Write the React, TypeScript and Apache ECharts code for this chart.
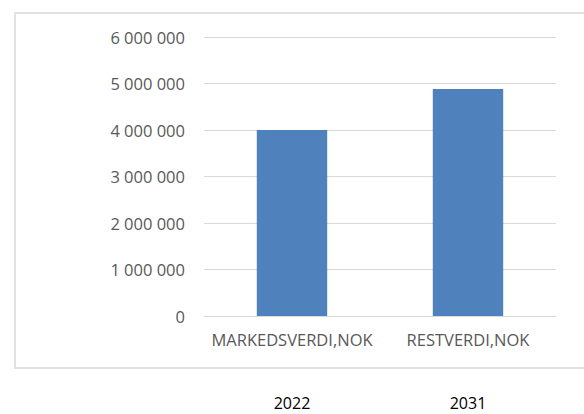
import React, { useEffect, useRef } from "react";
import * as echarts from "echarts";

const categories = ["MARKEDSVERDI,NOK", "RESTVERDI,NOK"];
const values = [4000000, 4880000];
const years = ["2022", "2031"];

function fmt(v: number): string {
  return String(Math.round(v)).replace(/\B(?=(\d{3})+(?!\d))/g, " ");
}

export default function App() {
  const ref = useRef<HTMLDivElement>(null);
  useEffect(() => {
    document.body.style.margin = "0";
    const chart = echarts.init(ref.current!, null, { renderer: "svg" });
    const font = "'Open Sans', 'Noto Sans', sans-serif";
    chart.setOption({
      animation: false,
      backgroundColor: "#ffffff",
      grid: { left: 204, right: 28, top: 37, bottom: 98, containLabel: false },
      graphic: [
        {
          type: "rect",
          shape: { x: 15, y: 13, width: 600, height: 355 },
          style: { fill: "none", stroke: "#d9d9d9", lineWidth: 1.5 },
          silent: true,
        },
      ],
      xAxis: [
        {
          type: "category",
          data: categories,
          position: "bottom",
          axisLine: { show: true, lineStyle: { color: "#d9d9d9", width: 1 } },
          axisTick: { show: false },
          axisLabel: {
            color: "#595959",
            fontSize: 16.5,
            fontFamily: font,
            margin: 15,
            interval: 0,
            hideOverlap: false,
          },
        },
        {
          type: "category",
          data: years,
          position: "bottom",
          offset: 71,
          axisLine: { show: false },
          axisTick: { show: false },
          axisLabel: { color: "#000000", fontSize: 16, fontFamily: font, margin: 8, interval: 0 },
        },
      ],
      yAxis: {
        type: "value",
        min: 0,
        max: 6000000,
        interval: 1000000,
        axisLine: { show: false },
        axisTick: { show: false },
        splitLine: { lineStyle: { color: "#d9d9d9", width: 1 } },
        axisLabel: {
          color: "#595959",
          fontSize: 16.5,
          fontFamily: font,
          margin: 19,
          formatter: (v: number) => fmt(v),
        },
      },
      series: [
        {
          type: "bar",
          xAxisIndex: 0,
          data: values,
          barWidth: "40%",
          itemStyle: { color: "#4F81BD" },
        },
      ],
    });
    return () => chart.dispose();
  }, []);
  return <div ref={ref} style={{ width: 584, height: 414 }} />;
}
